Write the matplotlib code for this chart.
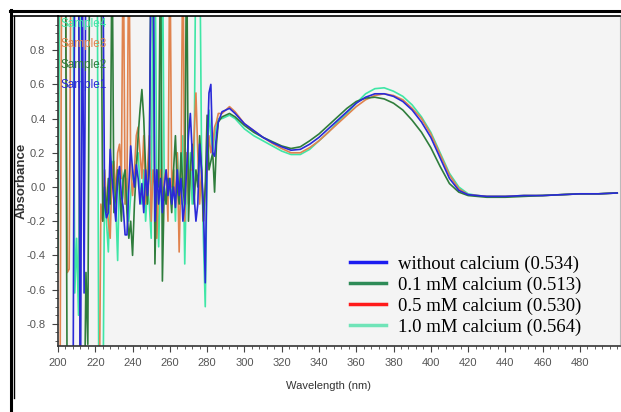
"""Absorbance spectra of the four samples (200-500 nm)"""

import matplotlib
matplotlib.use("Agg")
from matplotlib import pyplot as plt
from matplotlib.lines import Line2D


# Dati (1.5 / -1.5 = fuori scala)

lunghezze_rumore = list(range(200, 287))
lunghezze_liscio = [288, 290, 292, 295, 300, 305, 310, 315, 320, 325, 330, 335, 340, 345,
                    350, 355, 360, 365, 370, 375, 380, 385, 390, 395, 400, 405, 410, 415,
                    420, 425, 430, 440, 450, 460, 470, 480, 490, 500]

sample1_rumore = [-1.5, -1.5, -1.5, -1.5, -1.5, -1.5, -1.5, -1.5, -1.5, 1.5,
                  1.5, 1.5, -1.5, 1.5, -0.62, 1.5, 1.5, 1.5, 1.5, 1.5,
                  1.5, 1.5, 1.5, 1.5, 1.5, -0.1, -0.18, -0.15, 0.22, 0.05,
                  -0.08, -0.2, 0.05, 0.12, -0.05, -0.12, -0.28, -0.28, 0.0, 0.24,
                  0.1, 0.0, 0.13, 0.05, -0.1, 0.02, -0.15, 0.1, -0.05, 0.1,
                  1.5, 1.5, -0.2, 0.1, -0.1, 0.05, -0.15, 0.0, 0.1, -0.05,
                  0.05, -0.1, 0.0, -0.12, 0.1, -0.05, 0.05, -0.2, -0.1, 0.1,
                  0.3, 0.43, 0.2, -0.05, -0.2, -0.1, 0.25, 0.1, -0.1, -0.56,
                  0.2, 0.55, 0.6, 0.2, 0.18, 0.3, 0.38]
sample2_rumore = [1.5, 1.5, 1.5, 1.5, 1.5, -1.5, -1.5, -1.5, -1.5, -1.5,
                  -1.5, -1.5, -1.5, -1.5, -1.5, -0.5, -0.92, 1.5, 1.5, 1.5,
                  1.5, 1.5, 1.5, 1.5, -0.2, 0.0, -0.15, 0.05, -0.1, 1.5,
                  -0.15, -0.05, 0.1, 0.0, -0.2, 0.05, 0.1, -0.15, -0.3, -0.2,
                  -0.4, -0.1, 0.1, 0.3, 0.45, 0.57, 0.4, 0.1, -0.1, 0.2,
                  1.5, 1.5, -0.45, 0.1, 0.0, 1.5, -0.55, 0.0, -0.1, 0.05,
                  0.0, -0.15, 0.1, 0.3, 0.0, -0.1, 0.2, 0.0, -0.1, 1.5,
                  -0.2, 0.1, 0.25, -0.1, 0.1, 0.0, 0.3, 0.1, -0.2, 0.0,
                  0.42, 0.1, 0.15, 0.2, -0.03, 0.25, 0.38]
sample3_rumore = [-1.5, -1.5, 1.5, 1.5, 1.5, -0.5, -0.48, 1.5, 1.5, 1.5,
                  1.5, 1.5, -1.5, -1.5, -1.5, -1.5, -1.5, -1.5, -1.5, -1.5,
                  -1.5, -1.5, -1.5, -0.1, -0.2, 0.1, -0.1, -0.2, -0.3, 0.1,
                  0.15, -0.05, 0.2, 0.25, 0.05, 1.5, -0.1, 0.0, 1.5, 0.1,
                  -0.05, 0.1, 0.3, 0.35, 0.2, 0.05, 0.3, -0.1, 0.1, 0.3,
                  -0.2, 0.1, 0.0, -0.3, 0.0, 0.1, -0.1, 0.05, 0.1, -0.2,
                  1.5, 0.0, 0.1, -0.1, 0.2, -0.38, 0.1, 1.5, -0.2, 0.2,
                  -0.1, 0.1, 0.1, 0.3, 0.55, 0.2, -0.1, 0.1, -0.2, 0.0,
                  0.1, 0.3, 0.2, 0.25, 0.35, 0.38, 0.43]
sample4_rumore = [-0.48, 1.5, 1.5, 1.5, 1.5, 1.5, 1.5, 1.5, 1.5, -0.62,
                  -0.3, -0.75, 1.5, 1.5, 1.5, 1.5, 1.5, 1.5, 1.5, 1.5,
                  1.5, 1.5, -1.5, -1.5, -1.5, 0.1, -0.2, -0.38, 0.0, 0.15,
                  0.05, -0.1, -0.43, 0.1, 0.1, 0.0, -0.1, 0.05, -0.2, -0.05,
                  0.1, 0.0, 0.15, 0.2, 0.0, -0.1, 0.1, -0.2, 0.0, -0.1,
                  -0.3, 1.5, 1.5, 0.0, -0.35, 0.1, 1.5, 0.0, -0.1, 0.0,
                  0.05, -0.1, 0.1, -0.2, 0.2, 0.0, -0.1, 0.3, -0.45, 0.1,
                  0.0, 0.2, -0.1, 0.1, 1.5, 1.5, 1.5, 0.2, -0.3, -0.7,
                  0.1, 0.45, 0.3, 0.2, 0.3, 0.36, 0.40]

sample1_liscio = [0.44, 0.45, 0.46, 0.43, 0.37, 0.33, 0.29, 0.26, 0.235, 0.215, 0.22, 0.25, 0.29,
                  0.34, 0.39, 0.44, 0.49, 0.525, 0.545, 0.545, 0.53, 0.50, 0.45, 0.38, 0.29, 0.17,
                  0.05, -0.02, -0.045, -0.05, -0.055, -0.055, -0.05, -0.05, -0.045, -0.04, -0.04, -0.035]
sample2_liscio = [0.41, 0.42, 0.43, 0.41, 0.36, 0.32, 0.29, 0.265, 0.24, 0.225, 0.235, 0.27, 0.31,
                  0.36, 0.41, 0.46, 0.50, 0.52, 0.525, 0.515, 0.49, 0.45, 0.39, 0.32, 0.23, 0.12,
                  0.02, -0.03, -0.05, -0.055, -0.06, -0.06, -0.055, -0.05, -0.045, -0.04, -0.04, -0.035]
sample3_liscio = [0.43, 0.45, 0.47, 0.44, 0.37, 0.33, 0.29, 0.255, 0.225, 0.20, 0.20, 0.23, 0.27,
                  0.32, 0.37, 0.42, 0.47, 0.51, 0.535, 0.545, 0.535, 0.51, 0.46, 0.40, 0.31, 0.19,
                  0.07, -0.01, -0.045, -0.05, -0.055, -0.055, -0.05, -0.05, -0.045, -0.04, -0.04, -0.035]
sample4_liscio = [0.40, 0.41, 0.42, 0.40, 0.34, 0.30, 0.27, 0.24, 0.21, 0.19, 0.19, 0.22, 0.27,
                  0.32, 0.38, 0.43, 0.49, 0.545, 0.575, 0.58, 0.56, 0.53, 0.48, 0.41, 0.32, 0.20,
                  0.08, 0.0, -0.04, -0.05, -0.055, -0.055, -0.05, -0.05, -0.045, -0.04, -0.04, -0.035]

nomi_campioni = ["Sample4", "Sample3", "Sample2", "Sample1"]
etichette_legenda = ["without calcium (0.534)", "0.1 mM calcium (0.513)",
                     "0.5 mM calcium (0.530)", "1.0 mM calcium (0.564)"]


# Grafico

colori = {"Sample1": "#2a2ad8", "Sample2": "#2f7d3c", "Sample3": "#e0834e", "Sample4": "#3fe6a6"}
colori_legenda = ["#1c1cf0", "#2e8b57", "#ff1a1a", "#70e4b8"]

serie = {
    "Sample4": sample4_rumore + sample4_liscio,
    "Sample3": sample3_rumore + sample3_liscio,
    "Sample2": sample2_rumore + sample2_liscio,
    "Sample1": sample1_rumore + sample1_liscio,
}
lunghezze = lunghezze_rumore + lunghezze_liscio

fig = plt.figure(figsize=(6.21, 4.12), dpi=100)
W, H = 621, 412
ax = fig.add_axes([58 / W, 1 - 346 / H, 562 / W, 330 / H])
ax.set_facecolor("#f4f4f4")

for nome in nomi_campioni:
    ax.plot(lunghezze, serie[nome], color=colori[nome], lw=1.2)

ax.set_xlim(200, 501.5)
ax.set_ylim(-0.93, 1.0)

font_stretto = ["Liberation Sans", "DejaVu Sans"]
ax.set_xticks(list(range(200, 500, 20)))
ax.set_xticks(list(range(200, 502, 4)), minor=True)
ax.set_yticks([-0.8, -0.6, -0.4, -0.2, 0.0, 0.2, 0.4, 0.6, 0.8])
ax.set_yticks([v / 100 for v in range(-90, 100, 5)], minor=True)
ax.set_xticklabels([str(v) for v in range(200, 500, 20)], family=font_stretto, fontsize=8, color="#555555")
ax.set_yticklabels(["-0.8", "-0.6", "-0.4", "-0.2", "0.0", "0.2", "0.4", "0.6", "0.8"],
                   family=font_stretto, fontsize=8, color="#555555")
ax.tick_params(which="major", length=4, color="#444444", pad=5)
ax.tick_params(which="minor", length=2, color="#444444")

for lato in ["left", "bottom"]:
    ax.spines[lato].set_color("#333333")
    ax.spines[lato].set_linewidth(1.2)
ax.spines["top"].set_color("black")
ax.spines["top"].set_linewidth(1.2)
ax.spines["right"].set_color("#bbbbbb")

ax.set_xlabel("Wavelength (nm)", family=font_stretto, fontsize=8, color="#333333")
ax.xaxis.set_label_coords((328 - 58) / 562, -(381 - 346) / 330)
ax.set_ylabel("Absorbance", family=font_stretto, fontsize=9.5, fontweight="bold", color="#333333")
ax.yaxis.set_label_coords(-(58 - 28) / 562, 1 - (181 - 16) / 330)

# nomi dei campioni in alto a sinistra
for i, nome in enumerate(nomi_campioni):
    ax.text(0.004, 0.976 - i * 0.062, nome, transform=ax.transAxes, color=colori[nome],
            family=font_stretto, fontsize=8.5, va="center", ha="left")

maniglie = [Line2D([], [], color=c, lw=2.5) for c in colori_legenda]
ax.legend(maniglie, etichette_legenda, loc="lower left", bbox_to_anchor=(350 / W, 1 - 336 / H),
          bbox_transform=fig.transFigure, frameon=False, borderpad=0, borderaxespad=0,
          prop={"family": "Liberation Serif", "size": 13.5},
          handlelength=1.9, handletextpad=0.65, labelspacing=0.2)

# cornice esterna
fig.add_artist(Line2D([10 / W, 1], [1 - 11 / H, 1 - 11 / H], color="black", lw=2.2))
fig.add_artist(Line2D([11 / W, 11 / W], [0, 1 - 10 / H], color="black", lw=2.2))
fig.add_artist(Line2D([14 / W, 14 / W], [1 - 398 / H, 1 - 16 / H], color="black", lw=1.0))
fig.add_artist(Line2D([14 / W, 58 / W], [1 - 16 / H, 1 - 16 / H], color="black", lw=1.2))

fig.savefig("out.png", dpi=100)
